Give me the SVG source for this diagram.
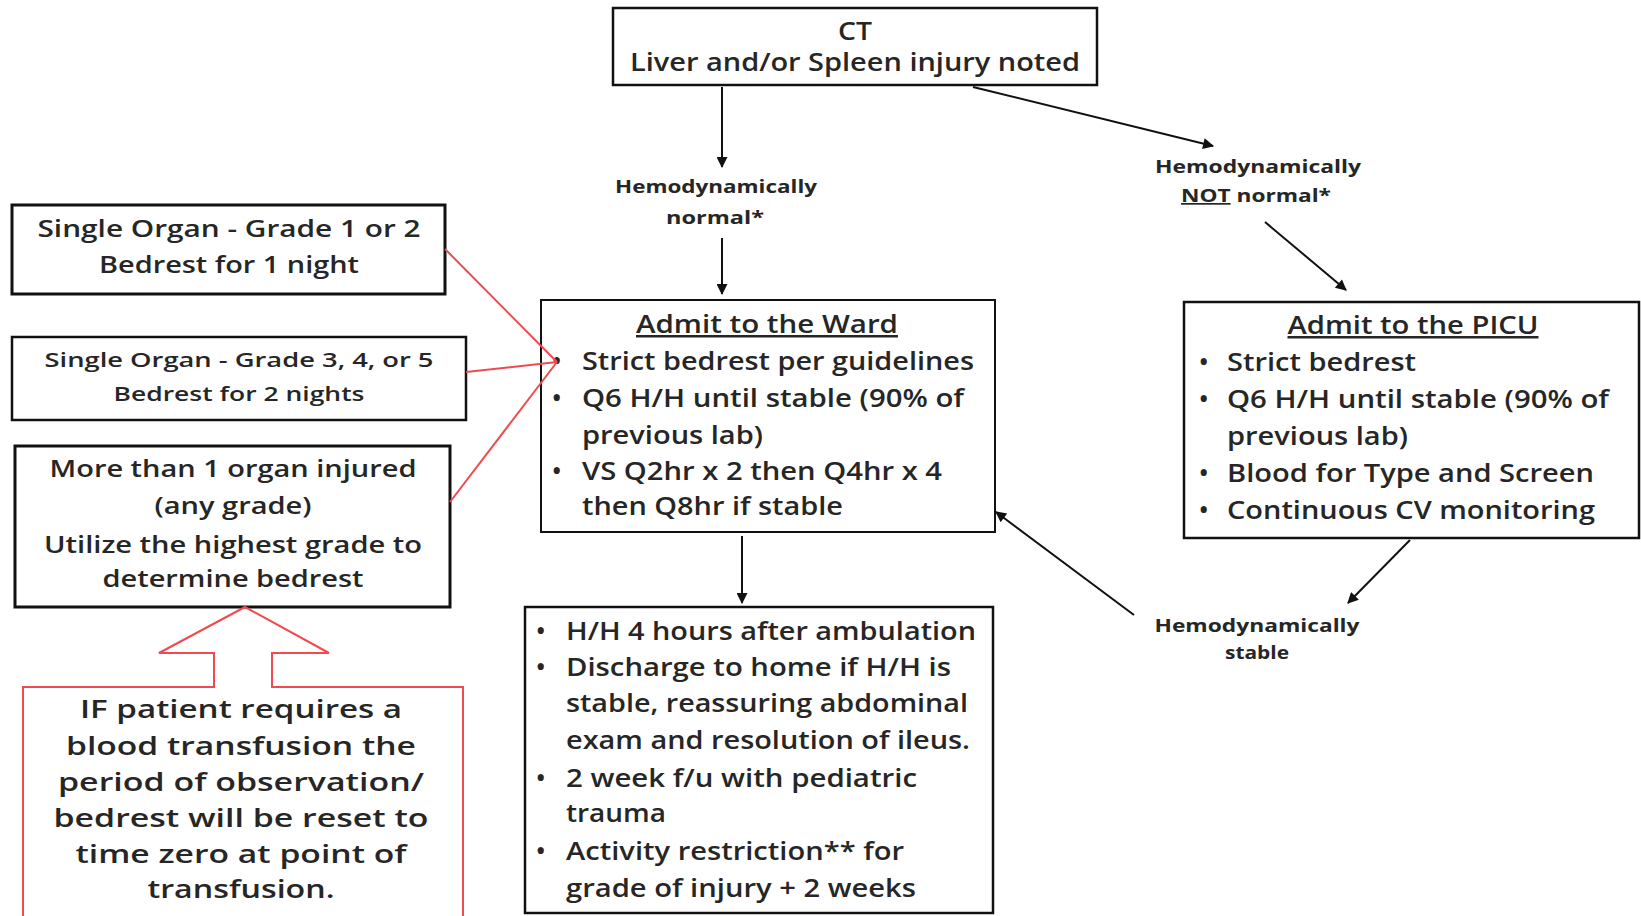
<svg xmlns="http://www.w3.org/2000/svg" width="1641" height="916" viewBox="0 0 1641 916">
<defs>
<marker id="ah" viewBox="0 0 10 10" refX="9" refY="5" markerWidth="13" markerHeight="11" markerUnits="userSpaceOnUse" orient="auto"><path d="M0,0 L10,5 L0,10 z" fill="#111"/></marker>
<style>
.box{fill:#fff;stroke:#111}
.t{font-family:"Open Sans","Liberation Sans",sans-serif;fill:#262626;font-size:25px;font-weight:600}
.c{text-anchor:middle}
.lbl{font-family:"Open Sans","Liberation Sans",sans-serif;font-weight:bold;font-size:17px;fill:#262626;text-anchor:middle}
.ar{stroke:#111;stroke-width:2;fill:none}
.red{stroke:#f04a50;stroke-width:2;fill:none}
</style>
</defs>
<rect width="1641" height="916" fill="#fff"/>

<g id="ct">
<rect class="box" x="613" y="8" width="484" height="77" stroke-width="2.5"/>
<text class="t c" x="855" y="40" textLength="34" lengthAdjust="spacingAndGlyphs">CT</text>
<text class="t c" x="855" y="71" textLength="450" lengthAdjust="spacingAndGlyphs">Liver and/or Spleen injury noted</text>
</g>

<g id="label-normal">
<text class="lbl" x="716" y="193" textLength="202" lengthAdjust="spacingAndGlyphs">Hemodynamically</text>
<text class="lbl" x="715" y="224" textLength="98" lengthAdjust="spacingAndGlyphs">normal*</text>
</g>

<g id="label-not-normal">
<text class="lbl" x="1258" y="173" textLength="206" lengthAdjust="spacingAndGlyphs">Hemodynamically</text>
<text class="lbl" x="1256" y="202" textLength="150" lengthAdjust="spacingAndGlyphs"><tspan text-decoration="underline">NOT</tspan> normal*</text>
</g>

<g id="label-stable">
<text class="lbl" x="1257" y="632" textLength="205" lengthAdjust="spacingAndGlyphs">Hemodynamically</text>
<text class="lbl" x="1257" y="659" textLength="64" lengthAdjust="spacingAndGlyphs">stable</text>
</g>

<g id="grade12">
<rect class="box" x="12" y="205" width="433" height="89" stroke-width="3"/>
<text class="t c" x="229" y="237" style="font-size:23px" textLength="383" lengthAdjust="spacingAndGlyphs">Single Organ  - Grade 1 or 2</text>
<text class="t c" x="229" y="273" style="font-size:23px" textLength="260" lengthAdjust="spacingAndGlyphs">Bedrest for 1 night</text>
</g>

<g id="grade345">
<rect class="box" x="12" y="337" width="454" height="83" stroke-width="2.5"/>
<text class="t c" x="239" y="367" style="font-size:20px" textLength="389" lengthAdjust="spacingAndGlyphs">Single Organ  - Grade 3, 4, or 5</text>
<text class="t c" x="239" y="401" style="font-size:20px" textLength="251" lengthAdjust="spacingAndGlyphs">Bedrest for 2 nights</text>
</g>

<g id="multi">
<rect class="box" x="15" y="446" width="435" height="161" stroke-width="3"/>
<text class="t c" x="233" y="477" style="font-size:23px" textLength="367" lengthAdjust="spacingAndGlyphs">More than 1 organ injured</text>
<text class="t c" x="233" y="514" style="font-size:23px" textLength="157" lengthAdjust="spacingAndGlyphs">(any grade)</text>
<text class="t c" x="233" y="553" style="font-size:23px" textLength="378" lengthAdjust="spacingAndGlyphs">Utilize the highest grade to</text>
<text class="t c" x="233" y="587" style="font-size:23px" textLength="261" lengthAdjust="spacingAndGlyphs">determine bedrest</text>
</g>

<g id="transfusion">
<path class="red" d="M23,920 L23,687 L214,687 L214,653 L159,653 L245,607 L329,653 L272,653 L272,687 L463,687 L463,920"/>
<text class="t c" x="241" y="718" textLength="322" lengthAdjust="spacingAndGlyphs">IF patient requires a</text>
<text class="t c" x="241" y="755" textLength="350" lengthAdjust="spacingAndGlyphs">blood transfusion the</text>
<text class="t c" x="241" y="791" textLength="366" lengthAdjust="spacingAndGlyphs">period of observation/</text>
<text class="t c" x="241" y="827" textLength="375" lengthAdjust="spacingAndGlyphs">bedrest will be reset to</text>
<text class="t c" x="241" y="863" textLength="331" lengthAdjust="spacingAndGlyphs">time zero at point of</text>
<text class="t c" x="241" y="898" textLength="187" lengthAdjust="spacingAndGlyphs">transfusion.</text>
</g>

<g id="ward">
<rect class="box" x="541" y="300" width="454" height="232" stroke-width="2"/>
<text class="t c" x="767" y="333" text-decoration="underline" textLength="262" lengthAdjust="spacingAndGlyphs">Admit to the Ward</text>
<text class="t" x="552" y="370">•</text>
<text class="t" x="582" y="370" textLength="392" lengthAdjust="spacingAndGlyphs">Strict bedrest per guidelines</text>
<text class="t" x="552" y="407">•</text>
<text class="t" x="582" y="407" textLength="382" lengthAdjust="spacingAndGlyphs">Q6 H/H until stable (90% of</text>
<text class="t" x="582" y="444" textLength="181" lengthAdjust="spacingAndGlyphs">previous lab)</text>
<text class="t" x="552" y="480">•</text>
<text class="t" x="582" y="480" textLength="360" lengthAdjust="spacingAndGlyphs">VS Q2hr x 2 then Q4hr x 4</text>
<text class="t" x="582" y="515" textLength="261" lengthAdjust="spacingAndGlyphs">then Q8hr if stable</text>
</g>

<g id="picu">
<rect class="box" x="1184" y="302" width="455" height="236" stroke-width="2.5"/>
<text class="t c" x="1413" y="334" text-decoration="underline" textLength="251" lengthAdjust="spacingAndGlyphs">Admit to the PICU</text>
<text class="t" x="1199" y="371">•</text>
<text class="t" x="1227" y="371" textLength="189" lengthAdjust="spacingAndGlyphs">Strict bedrest</text>
<text class="t" x="1199" y="408">•</text>
<text class="t" x="1227" y="408" textLength="382" lengthAdjust="spacingAndGlyphs">Q6 H/H until stable (90% of</text>
<text class="t" x="1227" y="445" textLength="181" lengthAdjust="spacingAndGlyphs">previous lab)</text>
<text class="t" x="1199" y="482">•</text>
<text class="t" x="1227" y="482" textLength="367" lengthAdjust="spacingAndGlyphs">Blood for Type and Screen</text>
<text class="t" x="1199" y="519">•</text>
<text class="t" x="1227" y="519" textLength="368" lengthAdjust="spacingAndGlyphs">Continuous CV monitoring</text>
</g>

<g id="discharge">
<rect class="box" x="525" y="607" width="468" height="306" stroke-width="2.5"/>
<text class="t" x="536" y="640">•</text>
<text class="t" x="566" y="640" textLength="410" lengthAdjust="spacingAndGlyphs">H/H 4 hours after ambulation</text>
<text class="t" x="536" y="676">•</text>
<text class="t" x="566" y="676" textLength="385" lengthAdjust="spacingAndGlyphs">Discharge to home if H/H is</text>
<text class="t" x="566" y="712" textLength="402" lengthAdjust="spacingAndGlyphs">stable, reassuring abdominal</text>
<text class="t" x="566" y="749" textLength="404" lengthAdjust="spacingAndGlyphs">exam and resolution of ileus.</text>
<text class="t" x="536" y="787">•</text>
<text class="t" x="566" y="787" textLength="351" lengthAdjust="spacingAndGlyphs">2 week f/u with pediatric</text>
<text class="t" x="566" y="822" textLength="100" lengthAdjust="spacingAndGlyphs">trauma</text>
<text class="t" x="536" y="860">•</text>
<text class="t" x="566" y="860" textLength="338" lengthAdjust="spacingAndGlyphs">Activity restriction** for</text>
<text class="t" x="566" y="897" textLength="350" lengthAdjust="spacingAndGlyphs">grade of injury + 2 weeks</text>
</g>

<g id="connectors">
<line class="ar" x1="722" y1="87" x2="722" y2="167" marker-end="url(#ah)"/>
<line class="ar" x1="722" y1="238" x2="722" y2="294" marker-end="url(#ah)"/>
<line class="ar" x1="973" y1="87" x2="1213" y2="146" marker-end="url(#ah)"/>
<line class="ar" x1="1265" y1="222" x2="1346" y2="290" marker-end="url(#ah)"/>
<line class="ar" x1="742" y1="536" x2="742" y2="603" marker-end="url(#ah)"/>
<line class="ar" x1="1410" y1="540" x2="1348" y2="603" marker-end="url(#ah)"/>
<line class="ar" x1="1134" y1="615" x2="996" y2="512" marker-end="url(#ah)"/>
<line class="red" x1="445" y1="249" x2="557" y2="362"/>
<line class="red" x1="466" y1="372" x2="557" y2="362"/>
<line class="red" x1="450" y1="502" x2="557" y2="362"/>
</g>
</svg>
